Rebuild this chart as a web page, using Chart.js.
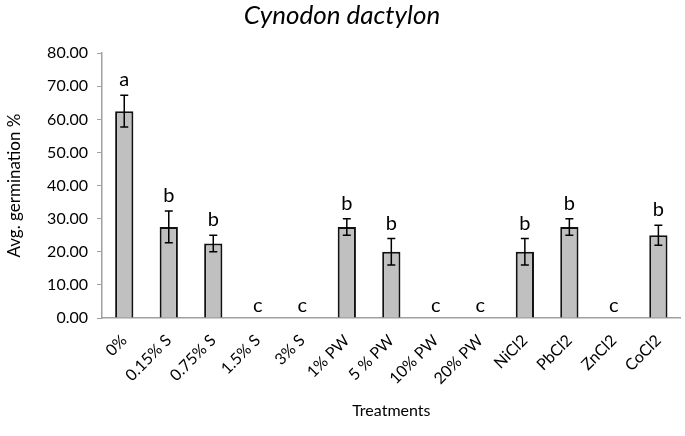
<!DOCTYPE html>
<html>
<head>
<meta charset="utf-8">
<script src="https://cdn.jsdelivr.net/npm/chart.js@4.4.0/dist/chart.umd.min.js"></script>
<style>
  body { margin: 0; background: #fff; }
  #wrap { width: 685px; height: 436px; }
</style>
</head>
<body>
<div id="wrap"><canvas id="grafica"></canvas></div>
<script>
const tratamientos = ["0%", "0.15% S", "0.75% S", "1.5% S", "3% S", "1% PW", "5 % PW",
    "10% PW", "20% PW", "NiCl2", "PbCl2", "ZnCl2", "CoCl2"];
const germinacion = [62.5, 27.5, 22.5, 0, 0, 27.5, 20, 0, 0, 20, 27.5, 0, 25];
const errores = [4.8, 4.8, 2.5, 0, 0, 2.5, 4, 0, 0, 4, 2.5, 0, 3];
const letras = ["a", "b", "b", "c", "c", "b", "b", "c", "c", "b", "b", "c", "b"];
const yTicks = [0, 10, 20, 30, 40, 50, 60, 70, 80];

const fuente = "Lato, 'Open Sans', sans-serif";

// error bars + letters drawn from the scales
const barrasError = {
    id: "barrasError",
    afterDatasetsDraw(chart) {
        const ctx = chart.ctx;
        const y = chart.scales.y;
        const meta = chart.getDatasetMeta(0);
        ctx.save();
        meta.data.forEach((bar, i) => {
            const v = germinacion[i];
            const e = errores[i];
            const x = bar.x;
            let top = y.getPixelForValue(v);
            if (e > 0) {
                const yHi = y.getPixelForValue(v + e);
                const yLo = y.getPixelForValue(v - e);
                ctx.strokeStyle = "#000";
                ctx.lineWidth = 1.5;
                ctx.beginPath();
                ctx.moveTo(x, yHi); ctx.lineTo(x, yLo);
                ctx.moveTo(x - 4, yHi); ctx.lineTo(x + 4, yHi);
                ctx.moveTo(x - 4, yLo); ctx.lineTo(x + 4, yLo);
                ctx.stroke();
                top = yHi;
            }
            ctx.fillStyle = "#000";
            ctx.font = "20px " + fuente;
            ctx.textAlign = "center";
            ctx.textBaseline = "alphabetic";
            ctx.fillText(letras[i], x, top - (v === 0 ? 6 : 9));
        });
        ctx.restore();
    }
};

new Chart(document.getElementById("grafica"), {
    type: "bar",
    data: {
        labels: tratamientos,
        datasets: [
            {
                label: "Avg. germination %",
                data: germinacion,
                backgroundColor: "#c0c0c0",
                borderColor: "#111",
                borderWidth: 2,
                borderSkipped: "bottom",
                categoryPercentage: 1,
                barPercentage: 0.41,
            },
        ],
    },
    options: {
        responsive: true,
        maintainAspectRatio: false,
        animation: false,
        layout: { padding: { top: 0, right: 1, bottom: 0, left: 0 } },
        plugins: {
            legend: { display: false },
            tooltip: { enabled: false },
            title: {
                display: true,
                text: "Cynodon dactylon",
                color: "#000",
                font: { family: fuente, size: 26, style: "italic", weight: "normal" },
                padding: { top: 0, bottom: 22 },
            },
        },
        scales: {
            x: {
                afterFit(scale) {
                    scale.height = 118;
                },
                grid: { display: false, drawTicks: false },
                border: { display: true, color: "#a0a0a0", width: 1.5 },
                ticks: {
                    color: "#000",
                    font: { family: fuente, size: 16 },
                    minRotation: 45,
                    maxRotation: 45,
                    padding: 13,
                },
                title: {
                    display: true,
                    text: "Treatments",
                    color: "#000",
                    font: { family: fuente, size: 16 },
                    padding: { top: 0, bottom: 16 },
                },
            },
            y: {
                min: 0,
                max: 80,
                afterBuildTicks(scale) {
                    scale.ticks = yTicks.map((v) => ({ value: v }));
                },
                afterFit(scale) {
                    scale.width = 102;
                },
                grid: { display: true, drawOnChartArea: false, drawTicks: true, tickLength: 5, color: "#a0a0a0" },
                border: { display: true, color: "#a0a0a0", width: 1.5 },
                ticks: {
                    color: "#000",
                    font: { family: fuente, size: 16 },
                    padding: 9,
                    callback: (v) => Number(v).toFixed(2),
                },
                title: {
                    display: true,
                    text: "Avg. germination %",
                    color: "#000",
                    font: { family: fuente, size: 17 },
                    padding: { bottom: 4 },
                },
            },
        },
    },
    plugins: [barrasError],
});
</script>
</body>
</html>
